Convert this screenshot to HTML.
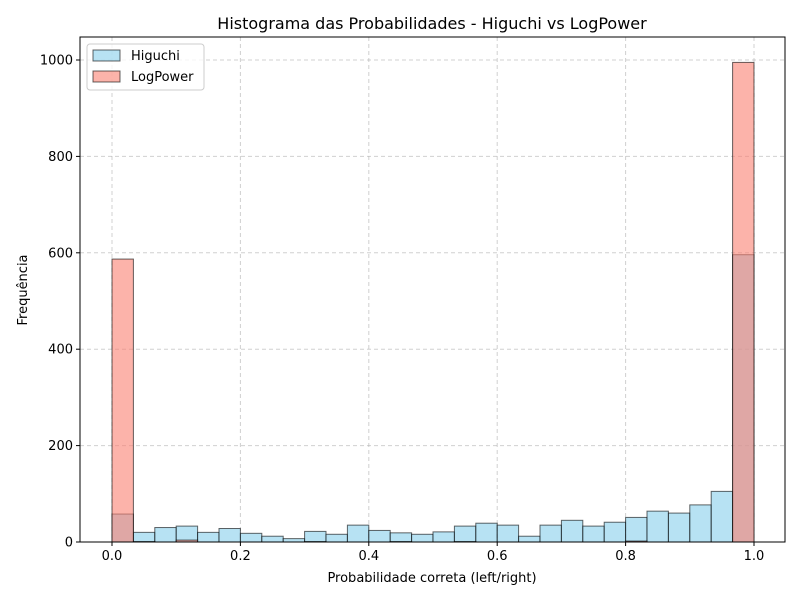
<!DOCTYPE html>
<html><head><meta charset="utf-8"><style>body{margin:0;background:#fff}svg{font-family:"DejaVu Sans","Liberation Sans",sans-serif}</style></head>
<body>
<svg id="chart" width="800" height="600" xmlns="http://www.w3.org/2000/svg"></svg>
<script>
const higuchi = [58,20,30,33,20,28,18,12,7,22,16,35,24,19,16,21,33,39,35,12,35,45,33,41,51,64,60,77,105,596];
const logpower = [587,1,0,4,0,0,0,0,0,1,0,0,0,1,0,0,1,0,0,0,0,0,0,0,2,0,0,0,0,995];
const xTicks = [0,0.2,0.4,0.6,0.8,1.0];
const xTickLabels = ["0.0","0.2","0.4","0.6","0.8","1.0"];
const yTicks = [0,200,400,600,800,1000];
const svg = document.getElementById('chart');
const NS = 'http://www.w3.org/2000/svg';
const L=80,R=785,T=37,B=542;
const xs = v => 112 + v*642;
const ys = v => 542 - v*0.482;
function mk(tag, attrs, parent){const e=document.createElementNS(NS,tag);for(const k in attrs)e.setAttribute(k,attrs[k]);(parent||svg).appendChild(e);return e;}
xTicks.forEach(t=>{const g=mk('line',{x1:xs(t),x2:xs(t),y1:T,y2:B,stroke:'#b0b0b0','stroke-dasharray':'4,3','stroke-opacity':0.6});

});
yTicks.forEach(t=>{const g=mk('line',{x1:L,x2:R,y1:ys(t),y2:ys(t),stroke:'#b0b0b0','stroke-dasharray':'4,3','stroke-opacity':0.6});

});
const n=higuchi.length, bw=1/n;
function bars(arr,color,name){arr.forEach((v,i)=>{if(v<=0)return;const x0=xs(i*bw),x1=xs((i+1)*bw);
const r=mk('rect',{x:x0,y:ys(v),width:x1-x0,height:ys(0)-ys(v),fill:color,'fill-opacity':0.6,stroke:'#000','stroke-opacity':0.6,'stroke-width':1});

});}
bars(higuchi,'#87CEEB','bar-higuchi');
bars(logpower,'#FA8072','bar-logpower');
const f=mk('rect',{x:L,y:T,width:R-L,height:B-T,fill:'none',stroke:'#000','stroke-width':1});


xTicks.forEach((t,i)=>{mk('line',{x1:xs(t),x2:xs(t),y1:B,y2:B+4,stroke:'#000'});
const tx=mk('text',{x:xs(t),y:B+18,'text-anchor':'middle','font-size':13});tx.textContent=xTickLabels[i];

});
yTicks.forEach(t=>{mk('line',{x1:L-4,x2:L,y1:ys(t),y2:ys(t),stroke:'#000'});
const tx=mk('text',{x:L-7,y:ys(t)+4.5,'text-anchor':'end','font-size':13});tx.textContent=String(t);

});
</script>
<svg style="position:absolute;left:0;top:0" width="800" height="600" xmlns="http://www.w3.org/2000/svg" font-family="DejaVu Sans, Liberation Sans, sans-serif">
<text x="432" y="29" text-anchor="middle" font-size="16">Histograma das Probabilidades - Higuchi vs LogPower</text>
<text x="432" y="582" text-anchor="middle" font-size="13">Probabilidade correta (left/right)</text>
<text transform="translate(27,290) rotate(-90)" text-anchor="middle" font-size="13">Frequência</text>
<g>
<rect x="87" y="44" width="117" height="46" rx="3" fill="#fff" fill-opacity="0.8" stroke="#ccc"/>
<rect x="93" y="50" width="27" height="11" fill="#87CEEB" fill-opacity="0.6" stroke="#000" stroke-opacity="0.6"/>
<text x="131" y="60" font-size="13">Higuchi</text>
<rect x="93" y="71" width="27" height="11" fill="#FA8072" fill-opacity="0.6" stroke="#000" stroke-opacity="0.6"/>
<text x="131" y="81" font-size="13">LogPower</text>
</g>
</svg>
</body></html>
